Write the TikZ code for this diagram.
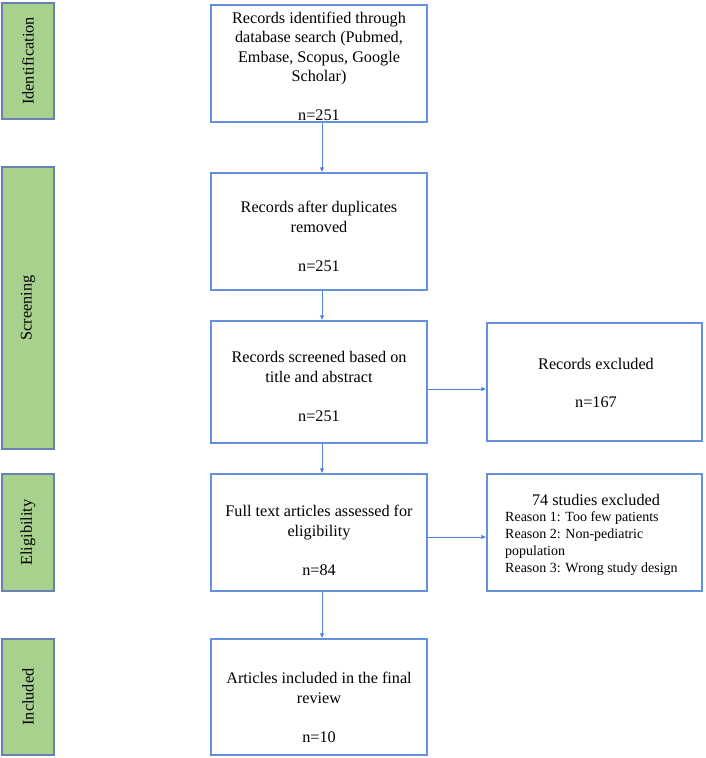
\documentclass[tikz,border=0pt]{standalone}
\usepackage{fontspec}
\setmainfont{Liberation Serif}
\usetikzlibrary{arrows.meta}
\definecolor{boxblue}{RGB}{100,145,220}
\definecolor{barblue}{RGB}{105,130,180}
\definecolor{bargreen}{RGB}{169,209,142}
\definecolor{arrblue}{RGB}{80,130,215}
\begin{document}
\begin{tikzpicture}[x=1pt,y=-1pt,
  flowbox/.style={draw=boxblue,line width=1.3pt,fill=white,rectangle,inner sep=0pt,minimum width=216pt},
  sidebox/.style={draw=boxblue,line width=1.3pt,fill=white,rectangle,inner sep=0pt,minimum width=215pt},
  phasebar/.style={draw=barblue,line width=1.1pt,fill=bargreen,rectangle,inner sep=0pt,minimum width=52pt},
  phasetext/.style={rotate=90,font=\fontsize{16.3pt}{19.5pt}\selectfont,inner sep=0pt},
  boxtext/.style={align=center,font=\fontsize{16.2pt}{19.45pt}\selectfont,inner sep=0pt},
  reasontext/.style={align=left,font=\fontsize{14pt}{17pt}\selectfont,inner sep=0pt},
  arr/.style={draw=arrblue,line width=0.9pt,-{Latex[length=5pt,width=4.5pt]}}
]
\useasboundingbox (0,0) rectangle (705,758);
% phase bars
\node[phasebar,minimum height=116pt] (p1) at (28,61) {};
\node[phasetext] (p1t) at (p1.center) {Identification};
\node[phasebar,minimum height=282pt] (p2) at (28,308) {};
\node[phasetext] (p2t) at (p2.center) {Screening};
\node[phasebar,minimum height=117pt] (p3) at (28,532.5) {};
\node[phasetext] (p3t) at (p3.center) {Eligibility};
\node[phasebar,minimum height=116pt] (p4) at (28,697) {};
\node[phasetext] (p4t) at (p4.center) {Included};
% main boxes
\node[flowbox,minimum height=117pt] (b1) at (319,63.5) {};
\node[boxtext] (b1t) at (319,66.5) {Records identified through\\database search (Pubmed,\\Embase, Scopus, Google\\Scholar)\\[19.45pt]n=251};
\node[flowbox,minimum height=117pt] (b2) at (319,231.5) {};
\node[boxtext] (b2t) at (319,236.5) {Records after duplicates\\removed\\[19.45pt]n=251};
\node[flowbox,minimum height=122pt] (b3) at (319,382) {};
\node[boxtext] (b3t) at (319,386.5) {Records screened based on\\title and abstract\\[19.45pt]n=251};
\node[flowbox,minimum height=117pt] (b4) at (319,532.5) {};
\node[boxtext] (b4t) at (319,540.5) {Full text articles assessed for\\eligibility\\[19.45pt]n=84};
\node[flowbox,minimum height=116pt] (b5) at (319,697) {};
\node[boxtext] (b5t) at (319,707.5) {Articles included in the final\\review\\[19.45pt]n=10};
% side boxes
\node[sidebox,minimum height=118pt] (r1) at (594.5,382) {};
\node[boxtext] (r1t) at (596,383) {Records excluded\\[19.45pt]n=167};
\node[sidebox,minimum height=117pt] (r2) at (594.5,532.5) {};
\node[boxtext] (r2h) at (596,500) {74 studies excluded};
\node[reasontext,anchor=west] (r2t) at (505,543.5) {Reason 1: Too few patients\\Reason 2: Non-pediatric\\population\\Reason 3: Wrong study design};
% connectors
\coordinate (ax) at (322,0);
\coordinate (h1) at (0,389);
\coordinate (h2) at (0,537);
\draw[arr] (b1.south -| ax) -- (b2.north -| ax);
\draw[arr] (b2.south -| ax) -- (b3.north -| ax);
\draw[arr] (b3.south -| ax) -- (b4.north -| ax);
\draw[arr] (b4.south -| ax) -- (b5.north -| ax);
\draw[arr] (b3.east |- h1) -- (r1.west |- h1);
\draw[arr] (b4.east |- h2) -- (r2.west |- h2);
\end{tikzpicture}
\end{document}
